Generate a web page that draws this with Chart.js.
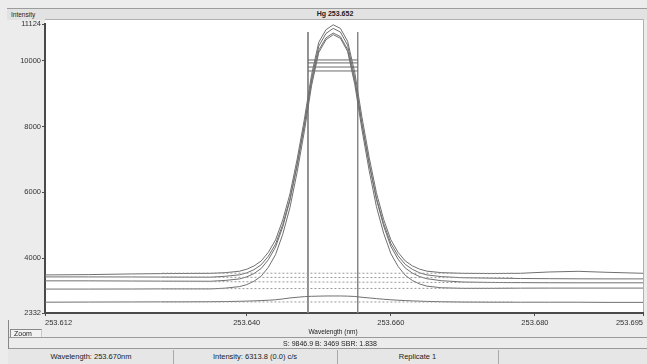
<!DOCTYPE html>
<html>
<head>
<meta charset="utf-8">
<script src="https://cdn.jsdelivr.net/npm/chart.js@4/dist/chart.umd.min.js"></script>
<style>
  html, body { margin: 0; padding: 0; background: #ececec; }
  #wrap { position: relative; width: 647px; height: 364px; overflow: hidden; font-family: "Liberation Sans", Arial, sans-serif; color: #222; }
  #chart { position: absolute; left: 0; top: 0; }
  .abs { position: absolute; white-space: nowrap; font-size: 7.5px; line-height: 9px; }
  .hline { position: absolute; height: 0; border-top: 1px solid #9a9a9a; }
  .vline { position: absolute; width: 0; border-left: 1px solid #a8a8a8; }
</style>
</head>
<body>
<div id="wrap">
  <!-- header strip -->
  <div style="position:absolute;left:7px;top:8px;width:640px;height:11px;background:#e2e2e2;border-top:1px solid #9c9c9c;"></div>
  <div class="abs" style="left:11px;top:10px;font-size:6.5px;">Intensity</div>
  <div class="abs" style="left:300px;width:70px;top:9px;text-align:center;font-weight:bold;font-size:7px;">Hg 253.652</div>

  <canvas id="chart" width="647" height="364"></canvas>

  <!-- lower panel -->
  <div class="abs" style="left:300px;width:66px;top:327px;text-align:center;font-size:6.5px;">Wavelength (nm)</div>
  <div style="position:absolute;left:10px;top:329px;width:30px;height:8px;border-top:1px solid #8a8a8a;border-left:1px solid #8a8a8a;border-right:1px solid #c8c8c8;background:#f2f2f2;"></div>
  <div class="abs" style="left:14px;top:329px;font-size:7px;">Zoom</div>
  <div class="hline" style="left:8px;top:337px;width:639px;"></div>
  <div class="abs" style="left:250px;width:160px;top:339px;text-align:center;font-size:7px;">S: 9846.9 B: 3469 SBR: 1.838</div>
  <div class="hline" style="left:8px;top:348px;width:639px;"></div>
  <div class="vline" style="left:8px;top:320px;height:44px;border-color:#888;"></div>
  <div style="position:absolute;left:8px;top:349px;width:639px;height:15px;background:#e6e6e6;"></div>
  <div class="vline" style="left:173px;top:350px;height:14px;"></div>
  <div class="vline" style="left:337px;top:350px;height:14px;"></div>
  <div class="vline" style="left:498px;top:350px;height:14px;"></div>
  <div class="abs" style="left:9px;width:164px;top:352px;text-align:center;">Wavelength: 253.670nm</div>
  <div class="abs" style="left:173px;width:164px;top:352px;text-align:center;">Intensity: 6313.8 (0.0) c/s</div>
  <div class="abs" style="left:337px;width:161px;top:352px;text-align:center;">Replicate 1</div>
</div>

<script>
// wavelength grid (nm)
const wavelengths = [
  253.612, 253.618, 253.624, 253.628, 253.632, 253.635, 253.637, 253.639, 253.640, 253.641,
  253.642, 253.643, 253.644, 253.645, 253.646, 253.647, 253.648, 253.649, 253.650, 253.651,
  253.652, 253.653, 253.654, 253.655, 253.656, 253.657, 253.658, 253.659, 253.660, 253.661,
  253.662, 253.663, 253.664, 253.665, 253.667, 253.670, 253.674, 253.678, 253.682, 253.686,
  253.690, 253.695
];

// replicate scans (c/s)
const scanA = [3490, 3500, 3520, 3530, 3535, 3538, 3558, 3603, 3664, 3762,
  3913, 4178, 4556, 5162, 5956, 7015, 8226, 9588, 10571, 10950,
  11100, 10990, 10600, 9640, 8280, 7060, 5990, 5180, 4560, 4180,
  3915, 3765, 3665, 3605, 3560, 3538, 3532, 3540, 3580, 3600,
  3570, 3540];
const scanB = [3430, 3430, 3428, 3425, 3422, 3422, 3449, 3494, 3553, 3650,
  3798, 4058, 4429, 5023, 5802, 6842, 8029, 9365, 10330, 10702,
  10850, 10740, 10350, 9390, 8050, 6870, 5830, 5050, 4450, 4075,
  3810, 3660, 3555, 3490, 3440, 3405, 3392, 3382, 3376, 3372,
  3370, 3370];
const scanC = [3310, 3310, 3305, 3302, 3300, 3298, 3323, 3369, 3431, 3531,
  3685, 3954, 4338, 4953, 5761, 6837, 8068, 9452, 10452, 10836,
  10990, 10880, 10480, 9480, 8100, 6870, 5790, 4980, 4360, 3970,
  3700, 3545, 3440, 3375, 3315, 3275, 3262, 3256, 3252, 3250,
  3250, 3250];
const scanD = [3060, 3060, 3062, 3065, 3065, 3065, 3088, 3135, 3196, 3297,
  3452, 3722, 4109, 4728, 5540, 6623, 7861, 9253, 10259, 10645,
  10800, 10690, 10290, 9280, 7900, 6660, 5570, 4760, 4140, 3750,
  3480, 3320, 3215, 3150, 3100, 3082, 3082, 3088, 3090, 3090,
  3090, 3090];
const blank = [2660, 2665, 2668, 2670, 2672, 2676, 2680, 2688, 2694, 2700,
  2710, 2720, 2735, 2760, 2790, 2810, 2830, 2840, 2845, 2850,
  2850, 2850, 2845, 2835, 2810, 2790, 2770, 2750, 2735, 2720,
  2710, 2700, 2692, 2685, 2675, 2665, 2660, 2660, 2660, 2660,
  2655, 2655];

// background correction points and fitted levels (left, right)
const bgPoints = [253.6283, 253.6769];
const bgLevels = [[3545, 3540], [3420, 3405], [3290, 3255], [3070, 3085], [2670, 2665]];

// integration window
const windowEdges = [253.6485, 253.6554];
const windowTop = 10880;
const windowLevels = [10030, 9940, 9815, 9695];

// axis ticks
const xTicks = [253.612, 253.640, 253.660, 253.680, 253.695];
const yTicks = [2332, 4000, 6000, 8000, 10000, 11124];

const pts = (ys) => wavelengths.map((w, i) => ({ x: w, y: ys[i] }));
const lineStyle = { borderWidth: 1, pointRadius: 0, tension: 0, fill: false };

const datasets = [];
bgLevels.forEach(l => datasets.push({
  ...lineStyle,
  data: [{ x: bgPoints[0], y: l[0] }, { x: bgPoints[1], y: l[1] }],
  borderColor: "#999",
  borderDash: [2, 2]
}));
[scanA, scanB, scanC, scanD, blank].forEach(s => datasets.push({
  ...lineStyle,
  data: pts(s),
  borderColor: "#707070"
}));
windowLevels.forEach(l => datasets.push({
  ...lineStyle,
  data: [{ x: windowEdges[0], y: l }, { x: windowEdges[1], y: l }],
  borderColor: "#6a6a6a"
}));
windowEdges.forEach(w => datasets.push({
  ...lineStyle,
  data: [{ x: w, y: windowTop }, { x: w, y: yTicks[0] }],
  borderColor: "#858585"
}));

const plotFrame = {
  id: "plotFrame",
  beforeDraw(chart) {
    const { ctx, chartArea: a } = chart;
    ctx.save();
    ctx.fillStyle = "#fff";
    ctx.fillRect(a.left, 19, a.right - a.left, a.bottom - 19);
    ctx.strokeStyle = "#b0b0b0";
    ctx.lineWidth = 1;
    ctx.beginPath();
    ctx.moveTo(a.left, 19.5);
    ctx.lineTo(a.right + 0.5, 19.5);
    ctx.lineTo(a.right + 0.5, a.bottom);
    ctx.stroke();
    ctx.restore();
  }
};

const tickFont = { family: "Liberation Sans", size: 7.5 };

new Chart(document.getElementById("chart"), {
  type: "line",
  data: { datasets },
  options: {
    responsive: false,
    animation: false,
    devicePixelRatio: 1,
    layout: { padding: { left: 0, right: 4, top: 24, bottom: 0 } },
    plugins: { legend: { display: false }, tooltip: { enabled: false } },
    scales: {
      x: {
        type: "linear",
        min: xTicks[0],
        max: xTicks[xTicks.length - 1],
        afterBuildTicks: s => { s.ticks = xTicks.map(v => ({ value: v })); },
        afterFit: s => { s.height = 51; },
        border: { color: "#4a4a4a", width: 2 },
        grid: { drawOnChartArea: false, drawTicks: true, tickLength: 3, color: "#4a4a4a" },
        ticks: {
          align: "inner",
          maxRotation: 0,
          padding: 2,
          color: "#333",
          font: tickFont,
          callback: v => v.toFixed(3)
        }
      },
      y: {
        min: yTicks[0],
        max: yTicks[yTicks.length - 1],
        afterBuildTicks: s => { s.ticks = yTicks.map(v => ({ value: v })); },
        afterFit: s => { s.width = 45; },
        border: { color: "#4a4a4a", width: 2 },
        grid: { drawOnChartArea: false, drawTicks: true, tickLength: 3, color: "#4a4a4a" },
        ticks: {
          padding: 1,
          color: "#333",
          font: tickFont,
          callback: v => String(v)
        }
      }
    }
  },
  plugins: [plotFrame]
});
</script>
</body>
</html>
